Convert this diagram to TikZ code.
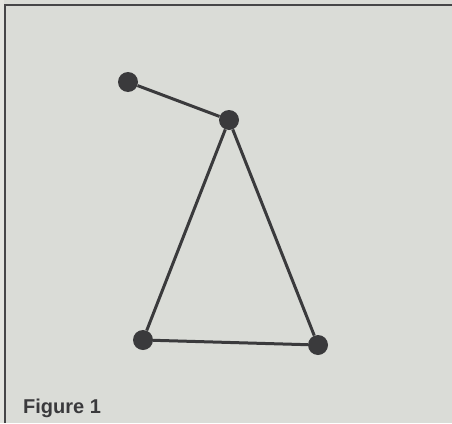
\documentclass[tikz,border=0pt]{standalone}
\usepackage{fontspec}
\setmainfont{Liberation Sans}
\definecolor{bg}{RGB}{218,220,215}
\definecolor{edgebg}{RGB}{228,229,224}
\definecolor{ink}{RGB}{58,58,60}
\definecolor{frame}{RGB}{70,70,72}
\begin{document}
\begin{tikzpicture}[x=1pt,y=-1pt,
  ball/.style={circle,fill=ink,inner sep=0pt,minimum size=20pt},
  rod/.style={draw=ink,line width=3pt},
  border/.style={draw=frame,line width=2pt},
  caption/.style={font=\bfseries\fontsize{20}{23}\selectfont,text=ink,anchor=base west,inner sep=0pt}]
\useasboundingbox (0,0) rectangle (452,423);
\fill[bg] (0,0) rectangle (452,423);
\fill[edgebg] (0,0) rectangle (4,423);
\coordinate (tl) at (5,5);
\coordinate (tr) at (452,5);
\coordinate (bl) at (5,423);
\draw[border] (tr) -- (tl) -- (bl);
\node[ball] (a) at (128,82) {};
\node[ball] (b) at (229,120) {};
\node[ball] (c) at (143,340) {};
\node[ball] (d) at (318,345) {};
\draw[rod] (a) -- (b);
\draw[rod] (b) -- (c);
\draw[rod] (b) -- (d);
\draw[rod] (c) -- (d);
\node[caption] (cap) at (23,413) {Figure 1};
\end{tikzpicture}
\end{document}
